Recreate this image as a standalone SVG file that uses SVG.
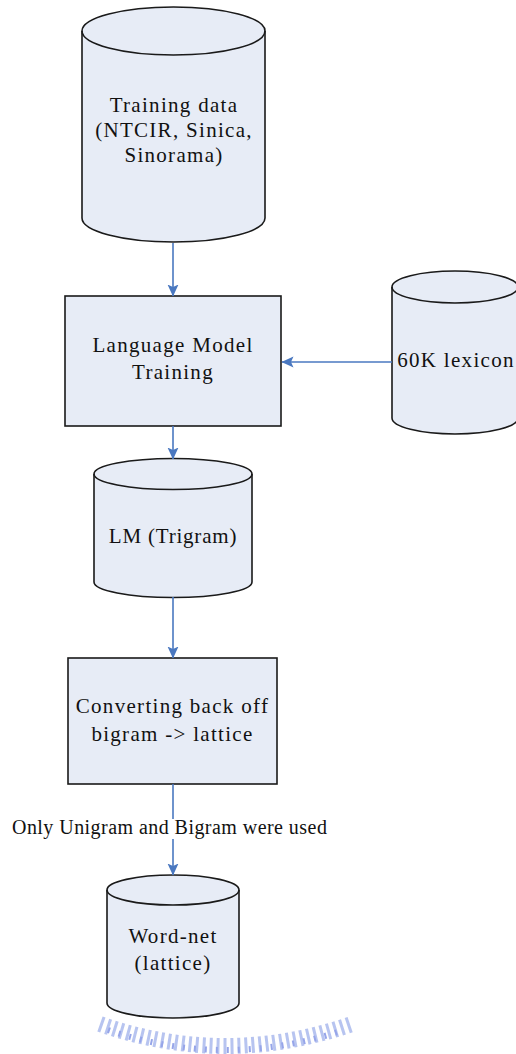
<svg xmlns="http://www.w3.org/2000/svg" width="516" height="1054" viewBox="0 0 516 1054">
  <style>
    .shape { fill: #e7ecf6; stroke: #1a1a1a; stroke-width: 1.6; }
    .rim { fill: none; stroke: #1a1a1a; stroke-width: 1.6; }
    .lbl { font-size: 21px; letter-spacing: 1.3px; fill: #111; text-anchor: middle; }
    .edge { fill: none; stroke: #4a78c0; stroke-width: 1.6; }
    .edge-lbl { font-size: 20px; letter-spacing: 0.45px; fill: #111; }
  </style>
  <defs>
    <marker id="arrow" viewBox="0 0 12 12" refX="11.5" refY="6" markerWidth="12" markerHeight="12" markerUnits="userSpaceOnUse" orient="auto">
      <path d="M0,0.5 L12,6 L0,11.5 L2.5,6 Z" fill="#4a78c0"/>
    </marker>
  </defs>
  <rect width="516" height="1054" fill="#ffffff"/>

  <g font-family="'Liberation Serif', 'DejaVu Serif', serif">
  <!-- Training data store -->
  <g id="training-data">
    <path class="shape" d="M82,31 A91.5,24 0 0 1 265,31 L265,218 A91.5,24 0 0 1 82,218 Z"/>
    <path class="rim" d="M82,31 A91.5,24 0 0 0 265,31"/>
    <text class="lbl" x="174" y="112">Training data</text>
    <text class="lbl" x="174" y="137">(NTCIR, Sinica,</text>
    <text class="lbl" x="174" y="162">Sinorama)</text>
  </g>

  <!-- Language model training step -->
  <g id="lm-training">
    <rect class="shape" x="65" y="296" width="216" height="130"/>
    <text class="lbl" x="173" y="352">Language Model</text>
    <text class="lbl" x="173" y="379">Training</text>
  </g>

  <!-- Lexicon store -->
  <g id="lexicon">
    <path class="shape" d="M392,287 A63,16 0 0 1 518,287 L518,418 A63,16 0 0 1 392,418 Z"/>
    <path class="rim" d="M392,287 A63,16 0 0 0 518,287"/>
    <text class="lbl" x="456" y="367">60K lexicon</text>
  </g>

  <!-- Trigram language model store -->
  <g id="lm-trigram">
    <path class="shape" d="M94,474 A79,15.5 0 0 1 252,474 L252,582 A79,15.5 0 0 1 94,582 Z"/>
    <path class="rim" d="M94,474 A79,15.5 0 0 0 252,474"/>
    <text class="lbl" x="173" y="543" style="letter-spacing:0.8px">LM (Trigram)</text>
  </g>

  <!-- Conversion step -->
  <g id="convert">
    <rect class="shape" x="68" y="658" width="209" height="126"/>
    <text class="lbl" x="172.5" y="713">Converting back off</text>
    <text class="lbl" x="172.5" y="741">bigram -&gt; lattice</text>
  </g>

  <!-- Word-net lattice store -->
  <g id="word-net">
    <path class="shape" d="M107,890 A66,15 0 0 1 239,890 L239,1003 A66,15 0 0 1 107,1003 Z"/>
    <path class="rim" d="M107,890 A66,15 0 0 0 239,890"/>
    <text class="lbl" x="173" y="943">Word-net</text>
    <text class="lbl" x="173" y="970">(lattice)</text>
  </g>

  <!-- Connectors -->
  <g id="connectors">
    <line class="edge" x1="173" y1="243" x2="173" y2="296" marker-end="url(#arrow)"/>
    <line class="edge" x1="392" y1="362" x2="282" y2="362" marker-end="url(#arrow)"/>
    <line class="edge" x1="173" y1="426" x2="173" y2="459" marker-end="url(#arrow)"/>
    <line class="edge" x1="173" y1="597" x2="173" y2="658" marker-end="url(#arrow)"/>
    <line class="edge" x1="173" y1="784" x2="173" y2="875" marker-end="url(#arrow)"/>
    <rect x="10" y="819" width="320" height="20" fill="#ffffff"/>
    <text class="edge-lbl" x="12" y="834">Only Unigram and Bigram were used</text>
  </g>
  </g>

  <!-- Faint emblem band along the bottom edge -->
  <g id="emblem" opacity="0.7">
    <path d="M100,1024 Q225,1068 352,1024" fill="none" stroke="#9aacea" stroke-width="16" stroke-dasharray="3 4"/>
    <path d="M108,1030 Q225,1070 344,1030" fill="none" stroke="#6a7fe0" stroke-width="6" stroke-dasharray="2 9"/>
  </g>
</svg>
